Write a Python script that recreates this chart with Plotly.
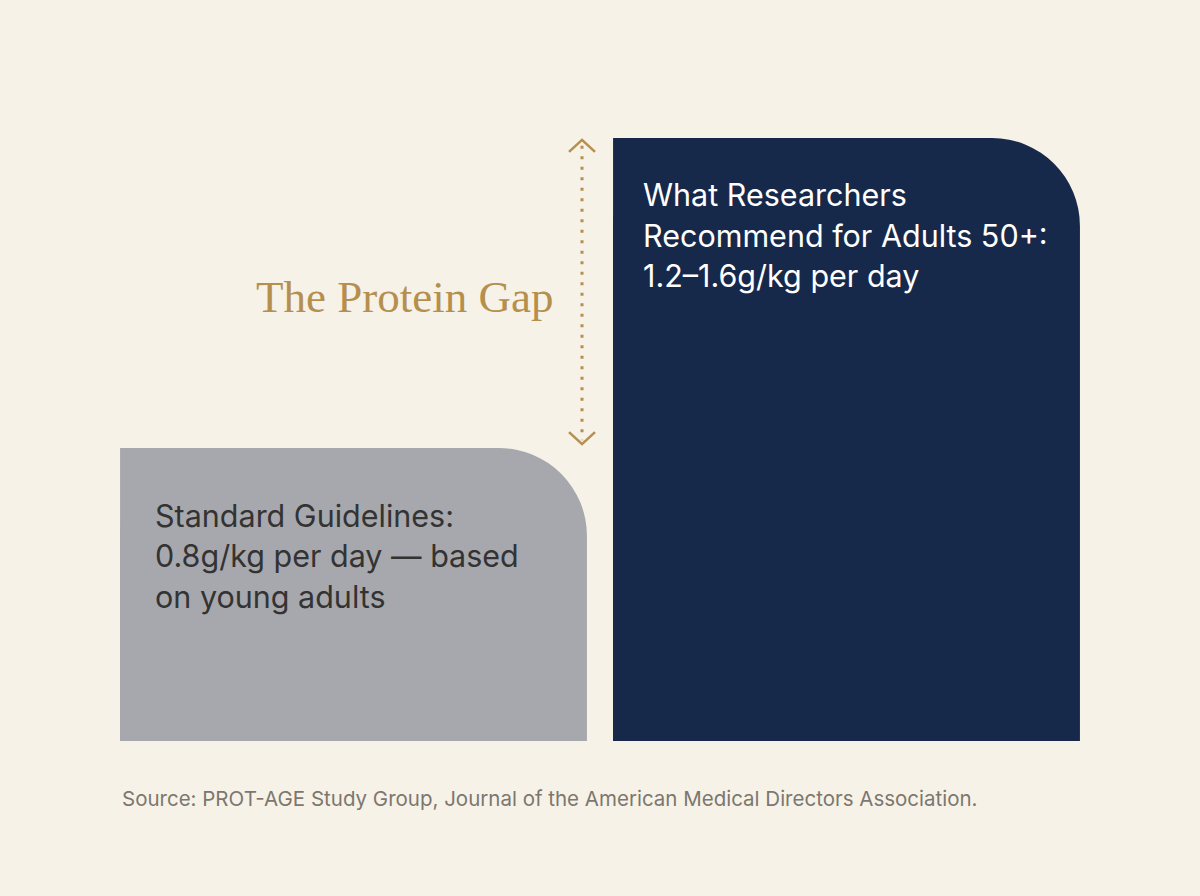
import plotly.graph_objects as go

# protein intake, g/kg per day
categories = ["Standard Guidelines", "Researchers (50+)"]
values = [0.8, 1.6]
bar_colors = ["#A7A8AD", "#16294A"]
text_colors = ["#333333", "#FFFFFF"]
bar_lines = [
    ["Standard Guidelines:", "0.8g/kg per day \u2014 based", "on young adults"],
    ["What Researchers", "Recommend for Adults 50+:", "1.2\u20131.6g/kg per day"],
]
title_text = "The Protein Gap"
source_text = "Source: PROT-AGE Study Group, Journal of the American Medical Directors Association."

BG = "#F7F2E7"
GOLD = "#B58F4E"
W = 0.947  # bar width in category units
xs = list(range(len(categories)))

fig = go.Figure()

# full bars, top corners rounded
fig.add_trace(go.Bar(
    x=xs, y=values, width=W,
    marker=dict(color=bar_colors, cornerradius=88, line=dict(width=0)),
    hoverinfo="skip",
))
# left half of each bar, square, so only the top-right corner stays round
fig.add_trace(go.Bar(
    x=xs, y=values, width=W / 2, offset=-W / 2,
    marker=dict(color=bar_colors, line=dict(width=0)),
    hoverinfo="skip",
))

# text inside bars, one annotation per line
first_shift = [-67, -57]
pad = [33, 28]
for i, lines in enumerate(bar_lines):
    for j, line in enumerate(lines):
        fig.add_annotation(
            x=xs[i] - W / 2, y=values[i], xref="x", yref="y",
            text=line, showarrow=False, xanchor="left", yanchor="middle",
            xshift=pad[i], yshift=first_shift[i] - 40.5 * j,
            font=dict(family="Inter", size=30.5, color=text_colors[i]),
        )

# the gap: dotted line between the two bar heights, with chevrons
gap_x = xs[0] + W / 2 - 0.01
fig.add_shape(
    type="line", xref="x", yref="y",
    x0=gap_x, x1=gap_x, y0=values[1] - 0.02, y1=values[0] + 0.02,
    line=dict(color=GOLD, width=3, dash="3px,7.5px"),
)
fig.add_shape(
    type="path", xref="x", yref="y", xsizemode="pixel", ysizemode="pixel",
    xanchor=gap_x, yanchor=values[1] - 0.005,
    path="M-13,-12 L0,0 L13,-12", line=dict(color=GOLD, width=2.5),
)
fig.add_shape(
    type="path", xref="x", yref="y", xsizemode="pixel", ysizemode="pixel",
    xanchor=gap_x, yanchor=values[0] + 0.01,
    path="M-13,12 L0,0 L13,12", line=dict(color=GOLD, width=2.5),
)

fig.add_annotation(
    x=0.4543, y=0.6927, xref="paper", yref="paper",
    text=title_text, showarrow=False, xanchor="right", yanchor="middle",
    font=dict(family="Liberation Serif", size=45, color=GOLD),
)
fig.add_annotation(
    x=0.0132, y=-0.089, xref="paper", yref="paper",
    text=source_text, showarrow=False, xanchor="left", yanchor="middle",
    font=dict(family="Inter", size=20.5, color="#7C776F"),
)

fig.update_layout(
    width=1200, height=896,
    barmode="overlay",
    showlegend=False,
    paper_bgcolor=BG, plot_bgcolor=BG,
    margin=dict(l=107, r=107, t=100, b=155),
    xaxis=dict(range=[-0.5, 1.5], visible=False, fixedrange=True),
    yaxis=dict(range=[0.044, 1.698], visible=False, fixedrange=True),
)

# drop the page's default body margin so the figure fills the window
fig.write_html(
    "out.html",
    config={"displayModeBar": False},
    post_script="document.body.style.margin='0';",
)
